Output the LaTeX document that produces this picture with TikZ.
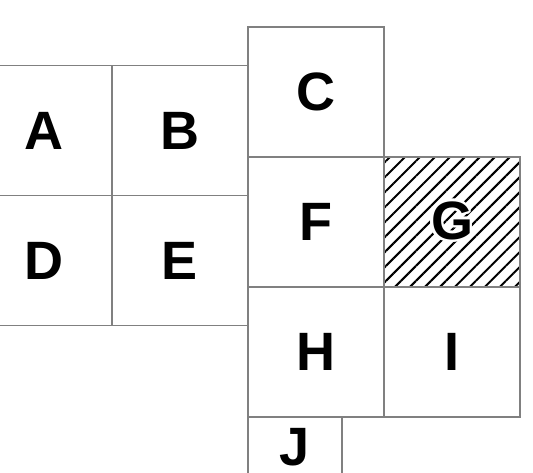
\documentclass[tikz,border=0pt]{standalone}
\usepackage{fontspec}
\setmainfont{Liberation Sans}
\usepackage{contour}
\usetikzlibrary{patterns.meta}
\definecolor{cellline}{RGB}{128,128,128}
\contourlength{2.5pt}

\begin{document}
\begin{tikzpicture}[x=1pt, y=-1pt,
    cell/.style={rectangle, draw=cellline, line width=1.4pt, minimum width=136pt, minimum height=130pt, inner sep=0pt, font=\fontsize{54}{54}\selectfont\bfseries},
    hatched/.style={pattern={Lines[angle=45, distance=10.6pt, line width=2pt]}},
]
\useasboundingbox (0,0) rectangle (533,472);
\node[cell] (A) at (44,130.5) {A};
\node[cell] (B) at (180,130.5) {B};
\node[cell] (D) at (44,260.5) {D};
\node[cell] (E) at (180,260.5) {E};
\node[cell] (C) at (316,92) {C};
\node[cell] (F) at (316,222) {F};
\node[cell, hatched] (G) at (452,222) {\contour{white}{G}};
\node[cell] (H) at (316,352) {H};
\node[cell] (I) at (452,352) {I};
\node[cell, minimum width=94pt, minimum height=60pt] (J) at (295,447) {J};
\end{tikzpicture}
\end{document}
